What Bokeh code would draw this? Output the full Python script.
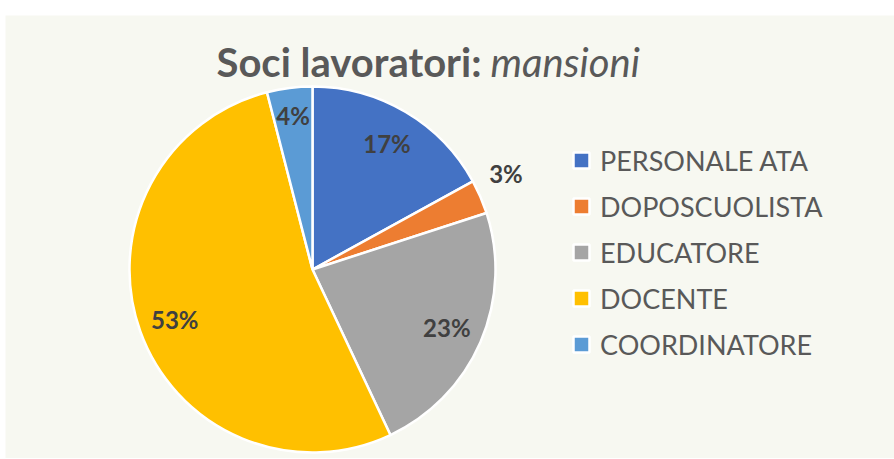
import math
from bokeh.plotting import figure
from bokeh.models import ColumnDataSource, Legend, LegendItem
from bokeh.core.properties import value
from bokeh.embed import file_html
from bokeh.resources import INLINE

# ---- data ----
categories = ["PERSONALE ATA", "DOPOSCUOLISTA", "EDUCATORE", "DOCENTE", "COORDINATORE"]
shares = [17, 3, 23, 53, 4]
colors = ["#4472C4", "#ED7D31", "#A5A5A5", "#FFC000", "#5B9BD5"]
title_bold = "Soci lavoratori:"
title_italic = "mansioni"

# ---- layout (frame pixels == data units) ----
FW, FH = 889, 443
CX, CY, R = 307, 189, 183

p = figure(frame_width=FW, frame_height=FH, x_range=(0, FW), y_range=(0, FH),
           output_backend="svg", toolbar_location=None,
           x_axis_type=None, y_axis_type=None,
           min_border_left=5, min_border_right=0, min_border_top=15, min_border_bottom=0,
           background_fill_color="#F7F8F1", border_fill_color="white",
           outline_line_color=None)

total = float(sum(shares))
starts, ends, lx, ly, texts = [], [], [], [], []
cum = 0.0
for s in shares:
    a0 = math.pi / 2 - 2 * math.pi * cum / total
    cum += s
    a1 = math.pi / 2 - 2 * math.pi * cum / total
    starts.append(a0)
    ends.append(a1)
    mid = (a0 + a1) / 2
    frac = s / total
    if frac >= 0.10:
        rr = 0.80 * R
    elif frac >= 0.04:
        rr = 0.85 * R
    else:
        rr = 1.18 * R
        mid += math.radians(3)
    lx.append(CX + rr * math.cos(mid))
    ly.append(CY + rr * math.sin(mid))
    texts.append(f"{s}%")

src = ColumnDataSource(dict(start=starts, end=ends, color=colors, label=categories))
wedges = p.wedge(x=CX, y=CY, radius=R, start_angle="start", end_angle="end",
                 direction="clock", fill_color="color", line_color="white",
                 line_width=2.5, source=src)

p.text(x=lx, y=ly, text=texts, text_align="center", text_baseline="middle",
       text_font=value("Lato"), text_font_style="bold", text_font_size="24px",
       text_color="#404040")

# title
p.text(x=[476], y=[397], text=[title_bold], text_align="right", text_baseline="middle",
       text_font=value("Lato"), text_font_style="bold", text_font_size="40px",
       text_color="#595959")
p.text(x=[485], y=[397], text=[title_italic], text_align="left", text_baseline="middle",
       text_font=value("Lato"), text_font_style="italic", text_font_size="40px",
       text_color="#595959")

legend = Legend(items=[LegendItem(label=c, renderers=[wedges], index=i)
                       for i, c in enumerate(categories)],
                location=(566, 96), orientation="vertical",
                glyph_width=20, glyph_height=20, label_standoff=9,
                label_text_font="Lato", label_text_font_size="27px",
                label_text_color="#595959", label_height=36, spacing=10,
                padding=0, margin=0, border_line_color=None,
                background_fill_alpha=0)
p.add_layout(legend)

open("out.html", "w").write(file_html(p, INLINE))
